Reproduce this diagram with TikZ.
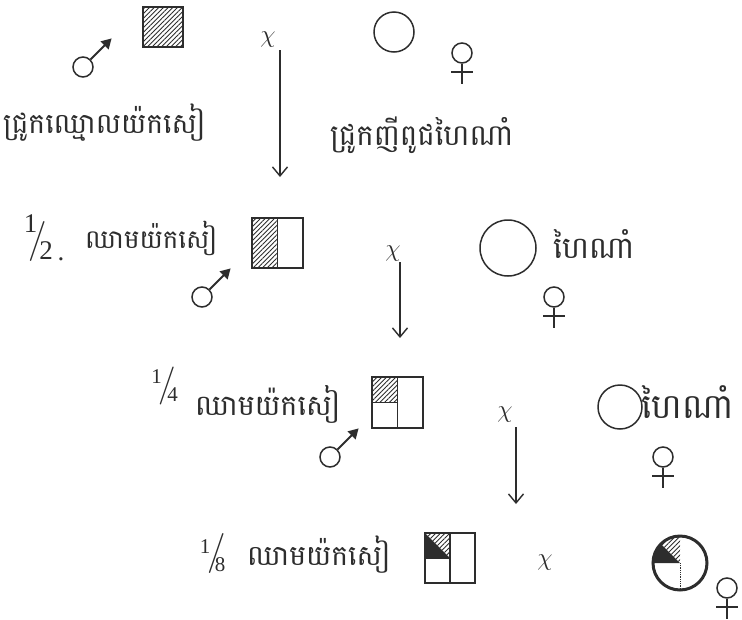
\documentclass[tikz,border=0pt]{standalone}
\usepackage{fontspec}
\newfontfamily\khmer[Script=Khmer]{Battambang}
\newfontfamily\tnr{Liberation Serif}
\usetikzlibrary{arrows.meta,patterns.meta,calc}
\definecolor{ink}{RGB}{45,45,45}
\newcommand\kt[2]{\resizebox{#1pt}{!}{#2}}
\tikzset{
  kh/.style={text=ink,font=\khmer\fontsize{26}{30}\selectfont,inner sep=0,anchor=base west},
  chi/.style={text=ink,font=\fontsize{27}{27}\selectfont,inner sep=0},
  num/.style={text=ink,font=\tnr\fontsize{27}{27}\selectfont,inner sep=0},
  snum/.style={text=ink,font=\tnr\fontsize{21}{21}\selectfont,inner sep=0},
  slashs/.style={text=ink,font=\fontsize{40}{40}\selectfont,inner sep=0},
  cross/.style={draw=ink,line width=1.4pt,-{Straight Barb[length=9pt,width=15pt,line width=1.4pt]}},
  hatch/.style={pattern={Lines[angle=45,distance=3.3pt,line width=0.9pt]},pattern color=ink},
  genbox/.style={draw=ink,line width=1.7pt,inner sep=0,rectangle},
  indiv/.style={circle,draw=ink,line width=1.5pt,inner sep=0},
  sexc/.style={circle,draw=ink,line width=1.5pt,inner sep=0,minimum size=20pt},
  pics/male/.style={code={
    \node[sexc] (-c) at (0,0) {};
    \draw[ink,line width=2pt,-{Triangle[length=10pt,width=11pt]}] (-c.45) -- ++(21,-21);
  }},
  pics/female/.style={code={
    \node[sexc] (-c) at (0,0) {};
    \draw[ink,line width=1.5pt] (-c.south) -- ++(0,20);
    \draw[ink,line width=1.5pt] (-11,19) -- (11,19);
  }},
}
\begin{document}
\begin{tikzpicture}[x=1pt,y=-1pt]
\useasboundingbox (0,0) rectangle (742,619);

% ---------- row 1 ----------
\node[genbox,minimum size=40pt,hatch] (p1) at (163,27) {};
\pic (m1) at (83,67) {male};
\node[chi] (x1) at (268,40) {$\chi$};
\coordinate (a1s) at (280,50);
\coordinate (a1e) at (280,177);
\draw[cross] (a1s) -- (a1e);
\node[indiv,minimum size=40pt] (q1) at (394,32) {};
\pic (f1) at (462,53) {female};
\node[kh] (t1) at (3,133) {\kt{202}{ជ្រូកឈ្មោលយ៉កសៀ}};
\node[kh] (t2) at (330,145) {\kt{183}{ជ្រូកញីពូជហៃណាំ}};

% ---------- row 2 ----------
\node[num] (n2) at (30.5,224) {1};
\node[slashs] (s2) at (38,241) {/};
\node[num] (d2) at (46,251) {2};
\node[num,anchor=base] (dot2) at (61,260) {.};
\node[kh] (t3) at (85,248) {\kt{132}{ឈាមយ៉កសៀ}};
\node[genbox,minimum width=51pt,minimum height=50pt,
      path picture={\fill[hatch] (path picture bounding box.north west) rectangle (path picture bounding box.south);}] (p2) at (277.5,243) {};
\draw[ink,line width=1.5pt] (p2.north) -- (p2.south);
\pic (m2) at (202,297) {male};
\node[chi] (x2) at (393,254) {$\chi$};
\coordinate (a2s) at (400,262);
\coordinate (a2e) at (400,338);
\draw[cross] (a2s) -- (a2e);
\node[indiv,minimum size=56pt] (q2) at (508,248) {};
\node[kh] (t4) at (553,258) {\kt{81}{ហៃណាំ}};
\pic (f2) at (554,297) {female};

% ---------- row 3 ----------
\node[snum] (n3) at (156.5,377) {1};
\node[slashs,font=\fontsize{38}{38}\selectfont] (s3) at (167,386) {/};
\node[snum] (d3) at (172.5,395) {4};
\node[kh] (t5) at (195,415) {\kt{145}{ឈាមយ៉កសៀ}};
\node[genbox,minimum width=51pt,minimum height=51pt,
      path picture={\fill[hatch] (path picture bounding box.north west) rectangle (path picture bounding box.center);}] (p3) at (397.5,402.5) {};
\draw[ink,line width=1.5pt] (p3.north) -- (p3.south);
\draw[ink,line width=1.5pt] (p3.west) -- (p3.center);
\pic (m3) at (330,457) {male};
\node[chi] (x3) at (505,415) {$\chi$};
\coordinate (a3s) at (516,427);
\coordinate (a3e) at (516,504);
\draw[cross] (a3s) -- (a3e);
\node[indiv,minimum size=44pt] (q3) at (620,407) {};
\node[kh] (t6) at (641,418) {\kt{92}{ហៃណាំ}};
\pic (f3) at (663,457) {female};

% ---------- row 4 ----------
\node[snum] (n4) at (205,547) {1};
\node[slashs] (s4) at (217,553) {/};
\node[snum] (d4) at (220,565) {8};
\node[kh] (t7) at (247,565) {\kt{143}{ឈាមយ៉កសៀ}};
\node[genbox,minimum size=50pt,
      path picture={
        \fill[hatch] (path picture bounding box.north west) -- (path picture bounding box.north) -- (path picture bounding box.center) -- cycle;
        \fill[ink] (path picture bounding box.north west) -- (path picture bounding box.center) -- (path picture bounding box.west) -- cycle;
      }] (p4) at (450,558) {};
\draw[ink,line width=1.5pt] (p4.north) -- (p4.south);
\draw[ink,line width=1.5pt] (p4.west) -- (p4.center);
\node[chi] (x4) at (545,563) {$\chi$};
\node[indiv,minimum size=54pt,line width=3pt,
      path picture={
        \fill[hatch] (path picture bounding box.center) -- ++(0,-30) arc[start angle=-90,end angle=-135,radius=30] -- cycle;
        \fill[ink] (path picture bounding box.center) -- ++(-30,0) arc[start angle=180,end angle=225,radius=30] -- cycle;
      }] (q4) at (680,563) {};
\draw[ink,line width=0.8pt,densely dotted] (q4.center) -- (q4.south);
\pic (f4) at (727,588) {female};
\end{tikzpicture}
\end{document}
